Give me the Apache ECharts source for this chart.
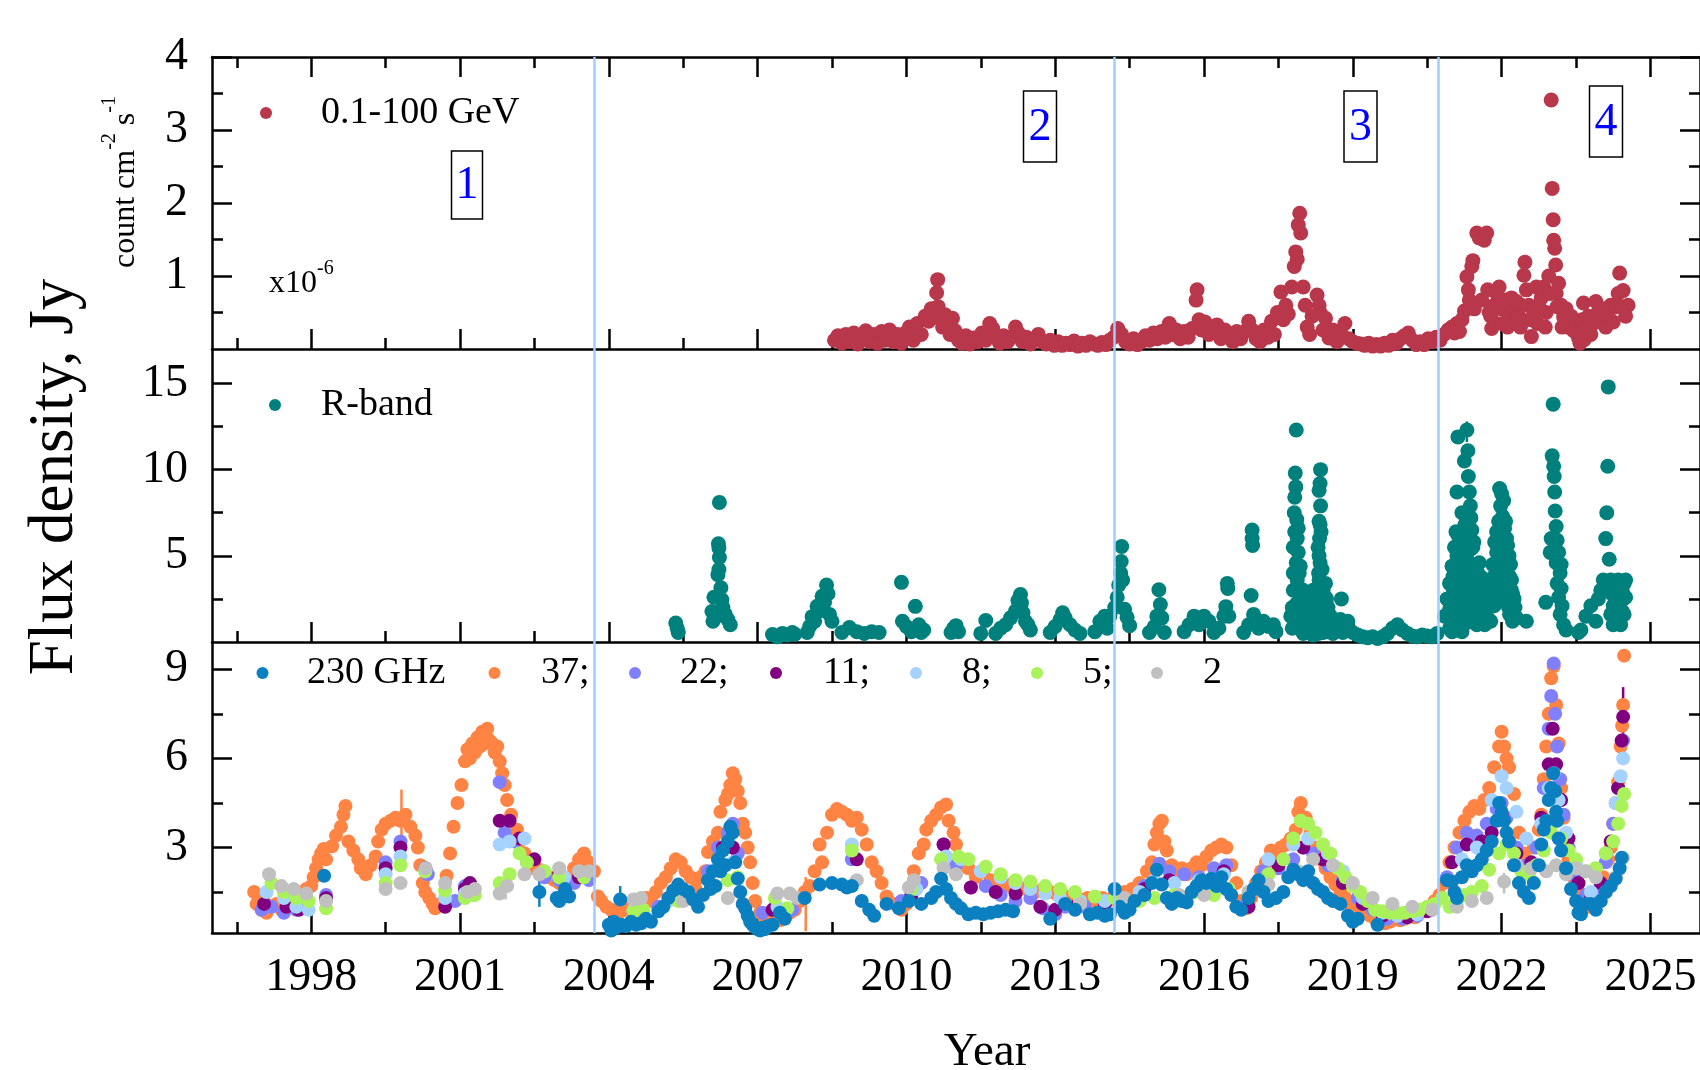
<!DOCTYPE html>
<html>
<head>
<meta charset="utf-8">
<script src="https://cdn.jsdelivr.net/npm/echarts@6/dist/echarts.min.js"></script>
<style>
  html, body { margin: 0; padding: 0; background: #fff; }
  #chart { width: 1700px; height: 1070px; }
</style>
</head>
<body>
<div id="chart"></div>
<script>
// tick values
const yearLabels = [1998, 2001, 2004, 2007, 2010, 2013, 2016, 2019, 2022, 2025]
const yearMinor = [1996.5, 1999.5, 2002.5, 2005.5, 2008.5, 2011.5, 2014.5, 2017.5, 2020.5, 2023.5]
const gammaTicks = [1, 2, 3, 4]
const gammaMinor = [0.5, 1.5, 2.5, 3.5]
const rTicks = [5, 10, 15]
const rMinor = [2.5, 7.5, 12.5]
const radioTicks = [3, 6, 9]
const radioMinor = [1.5, 4.5, 7.5]

// epoch boundaries (years) and their labels
const epochLines = [2003.71, 2014.19, 2020.73]
const epochNames = ["1", "2", "3", "4"]

const radioNames = ["230 GHz", "37;", "22;", "11;", "8;", "5;", "2"]

// 0.1-100 GeV flux, x1e-6 count cm^-2 s^-1
const gammaFlux = [
  [2008.55,0.12],[2008.62,0.18],[2008.7,0.08],[2008.78,0.2],[2008.86,0.1],[2008.94,0.22],[2009.02,0.07],[2009.1,0.18],
  [2009.18,0.25],[2009.26,0.1],[2009.34,0.2],[2009.42,0.08],[2009.5,0.24],[2009.58,0.12],[2009.66,0.26],[2009.74,0.1],
  [2009.82,0.2],[2009.9,0.08],[2009.98,0.22],[2010.06,0.3],[2010.14,0.12],[2010.22,0.35],[2010.3,0.2],[2010.38,0.45],
  [2010.45,0.38],[2010.5,0.55],[2010.56,0.44],[2010.61,0.77],[2010.63,0.95],[2010.64,0.58],[2010.68,0.42],[2010.73,0.3],
  [2010.78,0.47],[2010.83,0.38],[2010.88,0.2],[2010.93,0.42],[2010.98,0.25],[2011.05,0.12],[2011.12,0.08],[2011.2,0.18],
  [2011.28,0.07],[2011.36,0.15],[2011.44,0.1],[2011.52,0.22],[2011.6,0.12],[2011.68,0.35],[2011.74,0.28],[2011.8,0.15],
  [2011.88,0.08],[2011.96,0.18],[2012.04,0.1],[2012.12,0.16],[2012.2,0.3],[2012.26,0.22],[2012.34,0.1],[2012.42,0.16],
  [2012.5,0.07],[2012.58,0.14],[2012.66,0.2],[2012.74,0.1],[2012.82,0.07],[2012.9,0.12],[2012.98,0.05],[2013.06,0.1],
  [2013.14,0.05],[2013.22,0.08],[2013.3,0.06],[2013.38,0.11],[2013.46,0.04],[2013.54,0.08],[2013.62,0.05],[2013.7,0.1],
  [2013.78,0.07],[2013.86,0.05],[2013.94,0.09],[2014.02,0.06],[2014.1,0.12],[2014.18,0.16],[2014.26,0.28],[2014.34,0.2],
  [2014.42,0.1],[2014.5,0.07],[2014.58,0.14],[2014.66,0.06],[2014.74,0.1],[2014.82,0.18],[2014.9,0.12],[2014.98,0.22],
  [2015.06,0.14],[2015.14,0.24],[2015.22,0.16],[2015.3,0.35],[2015.36,0.2],[2015.44,0.26],[2015.52,0.14],[2015.6,0.24],
  [2015.68,0.16],[2015.76,0.28],[2015.84,0.67],[2015.86,0.81],[2015.9,0.4],[2015.95,0.26],[2016.02,0.37],[2016.1,0.2],
  [2016.18,0.24],[2016.26,0.33],[2016.34,0.14],[2016.42,0.26],[2016.5,0.18],[2016.58,0.1],[2016.66,0.24],[2016.74,0.14],
  [2016.82,0.24],[2016.9,0.38],[2016.97,0.26],[2017.05,0.14],[2017.13,0.1],[2017.21,0.26],[2017.29,0.16],[2017.36,0.38],
  [2017.42,0.2],[2017.48,0.5],[2017.55,0.78],[2017.6,0.4],[2017.65,0.6],[2017.7,0.48],[2017.77,0.85],[2017.82,1.13],
  [2017.85,1.33],[2017.88,1.23],[2017.9,1.7],[2017.93,1.86],[2017.95,1.59],[2018.0,0.85],[2018.04,0.6],[2018.08,0.3],
  [2018.13,0.2],[2018.18,0.45],[2018.28,0.74],[2018.32,0.6],[2018.35,0.49],[2018.4,0.26],[2018.45,0.42],[2018.52,0.15],
  [2018.6,0.26],[2018.68,0.1],[2018.76,0.22],[2018.84,0.35],[2018.92,0.14],[2019.0,0.1],[2019.08,0.08],[2019.16,0.07],
  [2019.24,0.05],[2019.32,0.08],[2019.4,0.04],[2019.48,0.06],[2019.56,0.04],[2019.64,0.08],[2019.72,0.05],[2019.8,0.12],
  [2019.88,0.08],[2019.96,0.14],[2020.04,0.18],[2020.12,0.22],[2020.2,0.12],[2020.28,0.06],[2020.36,0.1],[2020.44,0.06],
  [2020.52,0.14],[2020.6,0.1],[2020.68,0.16],[2020.76,0.12],[2020.84,0.2],[2020.92,0.26],[2021.0,0.3],[2021.05,0.22],
  [2021.1,0.35],[2021.15,0.24],[2021.2,0.4],[2021.25,0.52],[2021.3,0.99],[2021.33,0.81],[2021.35,0.67],[2021.4,1.13],
  [2021.42,1.21],[2021.45,0.55],[2021.5,1.59],[2021.55,1.52],[2021.6,0.67],[2021.65,1.49],[2021.7,1.59],[2021.72,0.81],
  [2021.75,0.5],[2021.78,0.45],[2021.8,0.28],[2021.85,0.6],[2021.88,0.35],[2021.9,0.76],[2021.95,0.85],[2022.0,0.55],
  [2022.02,0.35],[2022.05,0.67],[2022.1,0.6],[2022.12,0.3],[2022.15,0.44],[2022.2,0.7],[2022.25,0.5],[2022.28,0.35],
  [2022.3,0.65],[2022.35,0.45],[2022.38,0.3],[2022.4,0.6],[2022.45,1.01],[2022.47,1.19],[2022.5,0.81],[2022.55,0.6],
  [2022.58,0.4],[2022.6,0.17],[2022.65,0.5],[2022.7,0.85],[2022.72,0.35],[2022.75,0.6],[2022.8,0.7],[2022.85,0.85],
  [2022.88,0.3],[2022.9,0.5],[2022.95,1.0],[2022.98,0.76],[2023.0,3.41],[2023.02,2.2],[2023.04,1.77],[2023.05,1.49],
  [2023.07,1.38],[2023.09,1.15],[2023.1,0.76],[2023.12,0.58],[2023.15,0.9],[2023.2,0.6],[2023.22,0.3],[2023.25,0.44],
  [2023.3,0.55],[2023.35,0.3],[2023.4,0.45],[2023.45,0.25],[2023.5,0.35],[2023.55,0.15],[2023.58,0.08],[2023.62,0.4],
  [2023.65,0.63],[2023.67,0.13],[2023.7,0.3],[2023.75,0.45],[2023.8,0.2],[2023.85,0.35],[2023.9,0.65],[2023.95,0.51],
  [2024.0,0.4],[2024.05,0.55],[2024.1,0.3],[2024.15,0.45],[2024.2,0.6],[2024.25,0.37],[2024.3,0.58],[2024.35,0.76],
  [2024.38,1.04],[2024.42,0.58],[2024.45,0.8],[2024.5,0.45],[2024.55,0.6]
]

// R-band flux density
const rBand = [
  [2005.35,1.1],[2005.38,0.8],[2005.4,0.55],
  [2006.08,1.77],[2006.1,1.2],[2006.12,2.6],[2006.18,1.5],[2006.2,3.9],[2006.22,4.2],[2006.23,4.9],[2006.22,5.45],
  [2006.21,5.7],[2006.23,8.1],[2006.26,3.15],[2006.28,2.45],[2006.3,2.0],[2006.35,1.6],[2006.4,1.3],[2006.45,1.0],
  [2007.3,0.43],[2007.4,0.3],[2007.5,0.5],[2007.6,0.4],[2007.7,0.55],[2007.75,0.45],
  [2008.0,0.55],[2008.05,0.9],[2008.1,1.47],[2008.15,1.2],[2008.2,2.07],[2008.25,1.8],[2008.3,2.65],[2008.35,2.3],
  [2008.39,3.3],[2008.42,2.8],[2008.45,1.6],[2008.5,1.2],
  [2008.7,0.55],[2008.85,0.84],[2009.0,0.6],[2009.15,0.5],[2009.3,0.6],[2009.45,0.55],
  [2009.9,3.46],[2009.92,1.2],[2010.0,0.9],[2010.1,0.6],[2010.18,2.07],[2010.25,1.0],[2010.3,0.55],[2010.35,0.7],
  [2010.9,0.55],[2010.95,0.8],[2011.0,0.95],[2011.05,0.6],
  [2011.5,0.5],[2011.6,1.25],[2011.8,0.5],[2011.9,0.8],[2012.0,1.0],[2012.1,1.4],[2012.2,1.8],[2012.25,2.4],
  [2012.3,2.75],[2012.32,2.27],[2012.35,1.7],[2012.4,1.2],[2012.45,1.0],[2012.5,0.7],
  [2012.9,0.55],[2013.0,0.9],[2013.1,1.3],[2013.15,1.7],[2013.2,1.4],[2013.3,1.0],[2013.4,0.7],[2013.5,0.5],
  [2013.8,0.6],[2013.9,1.2],[2014.0,1.5],[2014.05,0.8],[2014.1,1.5],[2014.2,2.0],[2014.25,2.6],[2014.28,3.3],
  [2014.32,4.0],[2014.33,4.67],[2014.34,5.54],[2014.36,3.6],[2014.4,1.9],[2014.45,1.43],[2014.5,0.95],
  [2014.9,0.55],[2015.0,0.9],[2015.05,1.5],[2015.09,3.03],[2015.12,2.17],[2015.15,1.4],[2015.2,0.55],
  [2015.6,0.6],[2015.7,1.0],[2015.8,1.5],[2015.9,1.0],[2016.0,1.5],[2016.1,1.2],[2016.2,0.55],[2016.3,0.8],
  [2016.4,1.5],[2016.44,2.05],[2016.47,3.4],[2016.48,3.1],[2016.5,1.5],
  [2016.8,0.55],[2016.9,1.0],[2016.95,2.7],[2016.97,6.5],[2016.97,6.0],[2016.98,5.6],[2017.0,1.6],[2017.1,0.8],
  [2017.2,1.2],[2017.3,0.9],[2017.4,1.0],[2017.45,0.6],
  [2017.75,1.5],[2017.78,0.8],[2017.78,2.0],[2017.8,4.0],[2017.8,3.0],[2017.8,5.5],[2017.82,7.5],[2017.83,6.4],
  [2017.83,8.4],[2017.84,9.8],[2017.86,12.3],[2017.85,9.0],[2017.86,4.6],[2017.86,2.2],[2017.87,7.1],[2017.88,6.0],
  [2017.88,1.2],[2017.88,3.6],[2017.9,5.2],[2017.9,6.6],[2017.9,2.0],[2017.92,4.0],[2017.93,3.1],[2017.94,1.4],
  [2017.94,4.4],[2017.95,2.5],[2017.97,1.0],[2017.97,2.0],[2018.0,1.5],[2018.0,0.5],[2018.0,3.0],[2018.05,0.8],
  [2018.05,1.6],[2018.1,1.2],[2018.1,0.6],[2018.1,2.4],[2018.15,2.0],[2018.15,1.2],[2018.2,1.0],[2018.2,0.4],
  [2018.2,1.8],[2018.2,3.0],[2018.25,1.2],[2018.25,0.8],[2018.28,2.1],[2018.28,1.6],[2018.3,3.1],[2018.3,0.5],
  [2018.3,2.4],[2018.3,5.5],[2018.31,4.0],[2018.32,5.0],[2018.32,3.6],[2018.32,7.0],[2018.32,8.8],[2018.33,6.0],
  [2018.34,6.8],[2018.34,1.4],[2018.34,4.6],[2018.34,9.2],[2018.35,7.9],[2018.35,10.0],[2018.36,0.6],[2018.36,2.8],
  [2018.36,6.4],[2018.38,1.0],[2018.38,2.2],[2018.38,4.2],[2018.4,0.55],[2018.4,1.6],[2018.4,3.0],[2018.42,0.8],
  [2018.42,2.0],[2018.45,3.4],[2018.45,1.2],[2018.45,2.6],[2018.47,2.5],[2018.48,1.5],[2018.5,1.7],[2018.5,0.6],
  [2018.5,2.0],[2018.55,1.0],[2018.55,1.5],[2018.6,0.5],[2018.6,1.0],
  [2018.7,0.7],[2018.75,1.3],[2018.77,2.5],[2018.8,0.55],[2018.9,1.2],[2019.0,0.55],[2019.1,0.4],
  [2019.2,0.3],[2019.3,0.25],[2019.4,0.3],[2019.5,0.2],[2019.6,0.3],[2019.7,0.5],[2019.8,0.8],[2019.9,1.0],
  [2020.0,0.7],[2020.1,0.5],[2020.2,0.35],[2020.3,0.3],[2020.4,0.4],[2020.5,0.35],[2020.6,0.3],[2020.7,0.5],
  [2020.85,1.5],[2020.9,2.5],[2020.95,3.4],[2020.95,0.8],[2020.95,1.9],[2021.0,4.4],[2021.0,2.4],[2021.0,0.6],
  [2021.02,1.2],[2021.02,3.8],[2021.03,3.0],[2021.04,2.6],[2021.04,0.9],[2021.05,5.5],[2021.06,4.2],[2021.06,1.5],
  [2021.07,2.0],[2021.08,6.4],[2021.08,3.3],[2021.08,0.7],[2021.1,8.7],[2021.1,5.0],[2021.1,2.8],[2021.12,11.9],
  [2021.12,6.2],[2021.12,1.9],[2021.13,2.2],[2021.14,3.9],[2021.14,0.8],[2021.15,4.8],[2021.16,5.6],[2021.16,2.9],
  [2021.17,1.0],[2021.18,6.0],[2021.18,4.3],[2021.18,1.3],[2021.2,7.5],[2021.2,2.6],[2021.2,0.6],[2021.22,3.5],
  [2021.22,5.9],[2021.22,1.9],[2021.24,1.6],[2021.24,4.5],[2021.25,10.5],[2021.26,6.8],[2021.26,3.2],[2021.27,5.0],
  [2021.28,4.0],[2021.28,1.1],[2021.3,12.3],[2021.3,7.0],[2021.3,2.0],[2021.31,2.6],[2021.32,11.1],[2021.32,5.3],
  [2021.32,3.7],[2021.33,9.6],[2021.34,6.0],[2021.34,2.4],[2021.35,8.7],[2021.36,1.4],[2021.36,4.6],[2021.37,7.9],
  [2021.38,7.2],[2021.38,5.4],[2021.38,2.2],[2021.4,6.5],[2021.4,3.5],[2021.4,1.2],[2021.42,5.5],[2021.42,4.2],
  [2021.42,2.0],[2021.44,3.0],[2021.44,5.8],[2021.45,4.3],[2021.46,3.4],[2021.46,1.6],[2021.48,2.8],[2021.5,3.6],
  [2021.5,2.6],[2021.5,1.0],[2021.52,4.0],[2021.53,1.8],[2021.55,4.6],[2021.56,3.2],[2021.56,1.4],[2021.58,2.4],
  [2021.6,2.2],[2021.62,3.7],[2021.65,3.0],[2021.66,2.1],[2021.66,1.0],[2021.7,1.5],[2021.7,3.4],[2021.72,2.4],
  [2021.75,2.6],[2021.78,1.2],[2021.8,3.3],[2021.82,2.6],[2021.82,4.5],[2021.85,2.1],[2021.86,3.8],[2021.86,5.8],
  [2021.88,4.0],[2021.9,5.2],[2021.9,3.0],[2021.9,6.4],[2021.93,5.6],[2021.94,4.6],[2021.94,7.0],[2021.94,2.4],
  [2021.96,8.9],[2021.97,6.2],[2021.97,3.5],[2021.98,7.9],[2022.0,6.8],[2022.0,5.0],[2022.0,8.6],[2022.0,2.8],
  [2022.02,3.2],[2022.02,7.3],[2022.02,4.6],[2022.03,6.0],[2022.04,8.2],[2022.04,5.6],[2022.05,4.0],[2022.06,6.6],
  [2022.06,3.4],[2022.08,5.2],[2022.08,7.0],[2022.08,2.6],[2022.1,4.4],[2022.1,6.0],[2022.1,3.0],[2022.12,3.6],
  [2022.12,5.6],[2022.12,2.4],[2022.14,4.6],[2022.14,2.0],[2022.15,5.0],[2022.16,3.8],[2022.16,1.6],[2022.18,2.1],
  [2022.18,4.5],[2022.2,3.0],[2022.2,3.6],[2022.2,1.8],[2022.22,1.2],[2022.22,2.8],[2022.24,1.6],[2022.25,2.5],
  [2022.27,2.0],[2022.3,1.4],[2022.5,1.2],[2022.89,2.3],
  [2022.98,5.2],[2023.0,6.0],[2023.02,10.8],[2023.04,13.8],[2023.05,10.2],[2023.06,9.6],[2023.07,8.7],[2023.08,7.6],
  [2023.1,6.7],[2023.1,4.6],[2023.12,5.9],[2023.12,3.4],[2023.15,5.2],[2023.15,2.6],[2023.18,4.0],[2023.18,1.6],
  [2023.2,3.1],[2023.2,4.5],[2023.22,2.1],[2023.25,1.0],[2023.3,0.7],
  [2023.55,0.55],[2023.6,0.7],[2023.7,1.5],[2023.8,2.1],[2023.9,1.2],[2023.95,2.5],[2024.0,3.0],[2024.05,3.6],
  [2024.1,6.0],[2024.12,7.5],[2024.14,10.2],[2024.15,14.8],[2024.17,4.8],[2024.2,3.6],[2024.2,1.6],[2024.2,3.0],
  [2024.22,2.8],[2024.25,2.1],[2024.25,3.2],[2024.25,1.0],[2024.3,1.2],[2024.3,2.6],[2024.3,3.4],[2024.33,1.6],
  [2024.33,2.2],[2024.35,3.6],[2024.37,2.8],[2024.37,1.4],[2024.4,3.4],[2024.4,2.4],[2024.4,1.0],[2024.43,3.0],
  [2024.43,1.8],[2024.45,2.5],[2024.47,3.4],[2024.47,1.6],[2024.5,3.6],[2024.5,2.6]
]

// radio flux density, Jy
const f37 = [
  [1996.85,1.5],[1996.9,1.1],[1996.95,1.3],[1997.0,0.9],[1997.05,1.2],[1997.1,0.8],[1997.15,1.0],[1997.3,1.1],
  [1997.4,0.9],[1997.5,1.0],[1997.6,1.2],[1997.7,1.0],[1997.8,1.3],[1997.9,1.6],[1998.0,1.7],[1998.05,2.0],
  [1998.1,2.3],[1998.15,2.6],[1998.2,2.8],[1998.25,2.95],[1998.3,2.6],[1998.42,3.04],[1998.5,3.4],[1998.6,3.7],
  [1998.65,4.1],[1998.69,4.4],[1998.75,3.2],[1998.85,2.9],[1998.95,2.6],[1999.0,2.3],[1999.1,2.1],[1999.2,2.4],
  [1999.3,2.7],[1999.35,3.2],[1999.42,3.6],[1999.5,3.8],[1999.6,3.9],[1999.7,4.0],[1999.8,3.9],[1999.9,4.1],
  [2000.0,3.7],[2000.1,3.4],[2000.15,3.0],[2000.2,2.4],[2000.25,1.8],[2000.3,1.5],[2000.38,1.3],[2000.45,1.1],
  [2000.5,0.95],[2000.6,1.1],[2000.73,2.05],[2000.8,2.8],[2000.87,3.7],[2000.95,4.5],[2001.03,5.1],[2001.1,5.9],
  [2001.15,6.3],[2001.2,6.0],[2001.25,6.5],[2001.3,6.2],[2001.35,6.7],[2001.4,6.4],[2001.45,6.9],[2001.5,6.5],
  [2001.55,7.0],[2001.6,6.6],[2001.65,6.5],[2001.7,6.2],[2001.75,6.4],[2001.8,5.9],[2001.85,5.5],[2001.9,5.1],
  [2001.95,4.6],[2002.03,4.1],[2002.1,3.4],[2002.15,3.6],[2002.2,3.2],[2002.3,2.8],[2002.4,2.5],[2002.5,2.3],
  [2002.6,2.25],[2002.7,2.1],[2002.8,2.0],[2002.9,1.9],[2003.0,1.8],[2003.1,2.0],[2003.2,1.9],[2003.3,2.3],
  [2003.4,2.6],[2003.5,2.8],[2003.6,2.5],[2003.7,2.2],[2003.78,1.35],[2003.85,1.2],[2003.95,1.0],[2004.05,0.9],
  [2004.15,0.8],[2004.25,0.85],[2004.35,1.0],[2004.45,0.9],[2004.55,1.1],[2004.65,1.2],[2004.75,1.3],[2004.85,1.2],
  [2004.95,1.5],[2005.05,1.8],[2005.15,2.0],[2005.25,2.3],[2005.35,2.6],[2005.45,2.5],[2005.55,2.2],[2005.65,2.0],
  [2005.75,1.6],[2005.85,2.0],[2005.95,2.2],[2006.0,2.85],[2006.1,3.2],[2006.2,3.5],[2006.25,4.2],[2006.35,4.6],
  [2006.4,4.8],[2006.45,5.1],[2006.5,5.5],[2006.55,5.3],[2006.6,4.9],[2006.65,4.5],[2006.7,3.8],[2006.75,3.5],
  [2006.8,3.0],[2006.85,2.5],[2006.9,1.8],[2006.95,1.2],[2007.05,0.8],[2007.15,0.6],[2007.25,0.5],[2007.35,0.6],
  [2007.45,0.55],[2007.55,0.7],[2007.65,0.8],[2007.75,0.9],[2007.85,1.2],[2007.95,1.5],[2008.05,1.7],[2008.15,2.2],
  [2008.25,3.1],[2008.3,2.5],[2008.4,3.5],[2008.5,4.1],[2008.6,4.3],[2008.7,4.2],[2008.8,4.1],[2008.9,3.9],
  [2009.0,4.0],[2009.1,3.6],[2009.2,3.1],[2009.3,2.5],[2009.4,2.2],[2009.5,1.8],[2009.6,1.35],[2009.75,1.1],
  [2009.9,0.9],[2010.0,1.1],[2010.1,1.6],[2010.15,2.2],[2010.25,2.8],[2010.35,3.1],[2010.4,3.6],[2010.5,3.9],
  [2010.6,4.1],[2010.7,4.35],[2010.8,4.45],[2010.85,3.9],[2010.95,3.5],[2011.0,3.1],[2011.1,2.6],[2011.15,2.4],
  [2011.25,2.3],[2011.4,2.0],[2011.55,2.2],[2011.7,1.9],[2011.85,1.8],[2012.0,1.7],[2012.15,1.8],[2012.3,1.6],
  [2012.45,1.7],[2012.6,1.5],[2012.75,1.6],[2012.9,1.5],[2013.05,1.4],[2013.2,1.35],[2013.35,1.3],[2013.5,1.25],
  [2013.65,1.3],[2013.8,1.2],[2013.95,1.3],[2014.1,1.25],[2014.25,1.3],[2014.4,1.5],[2014.55,1.6],[2014.7,1.8],
  [2014.85,2.2],[2014.95,2.5],[2015.0,3.1],[2015.05,3.5],[2015.1,3.8],[2015.15,3.9],[2015.2,3.2],[2015.25,2.9],
  [2015.35,2.4],[2015.45,2.2],[2015.55,2.3],[2015.65,2.1],[2015.75,2.3],[2015.85,2.5],[2015.95,2.4],[2016.05,2.7],
  [2016.15,2.9],[2016.25,3.0],[2016.35,3.1],[2016.45,3.0],[2016.55,2.4],[2016.65,1.8],[2016.75,1.2],[2016.85,0.95],
  [2016.95,1.3],[2017.05,1.8],[2017.15,2.2],[2017.25,2.5],[2017.35,2.9],[2017.45,2.8],[2017.55,3.0],[2017.65,3.1],
  [2017.75,3.3],[2017.85,3.6],[2017.9,4.2],[2017.95,4.5],[2018.05,4.0],[2018.15,3.5],[2018.25,3.0],[2018.35,2.6],
  [2018.45,2.3],[2018.55,2.0],[2018.65,1.75],[2018.75,1.5],[2018.85,1.3],[2018.95,1.1],[2019.05,1.0],[2019.15,0.9],
  [2019.25,0.8],[2019.35,0.7],[2019.45,0.6],[2019.55,0.5],[2019.65,0.45],[2019.75,0.5],[2019.85,0.6],[2019.95,0.55],
  [2020.05,0.6],[2020.15,0.7],[2020.25,0.65],[2020.35,0.8],[2020.45,0.9],[2020.55,1.0],[2020.65,1.2],[2020.75,1.4],
  [2020.85,1.8],[2020.95,2.5],[2021.05,3.0],[2021.15,3.5],[2021.25,3.9],[2021.35,4.2],[2021.45,4.4],[2021.55,4.3],
  [2021.65,4.6],[2021.75,5.0],[2021.85,5.7],[2021.95,6.4],[2022.0,6.9],[2022.05,6.4],[2022.1,6.0],[2022.15,5.7],
  [2022.25,4.8],[2022.35,3.5],[2022.45,2.8],[2022.55,2.5],[2022.65,3.0],[2022.75,3.6],[2022.8,4.1],[2022.85,5.3],
  [2022.9,6.4],[2022.95,7.5],[2023.0,8.7],[2023.05,9.1],[2023.1,7.8],[2023.15,6.5],[2023.2,5.0],[2023.25,4.0],
  [2023.3,3.2],[2023.35,2.6],[2023.45,2.0],[2023.55,1.5],[2023.65,1.2],[2023.75,1.0],[2023.85,1.1],[2023.95,1.5],
  [2024.05,2.0],[2024.15,2.6],[2024.2,3.0],[2024.25,3.8],[2024.3,4.5],[2024.35,5.2],[2024.4,6.4],[2024.43,7.1],
  [2024.45,7.8],[2024.47,9.46]
]
const f230 = [
  [1998.26,2.05],[2002.6,1.5],[2002.95,1.3],[2003.0,1.2],[2003.08,1.4],[2003.12,1.6],[2003.2,1.35],
  [2004.0,0.4],[2004.05,0.2],[2004.1,0.5],[2004.15,0.3],[2004.23,1.25],[2004.25,0.4],[2004.35,0.35],[2004.45,0.5],
  [2004.55,0.4],[2004.65,0.45],[2004.75,0.6],[2004.85,0.5],[2005.0,0.85],[2005.1,1.0],[2005.2,1.3],[2005.3,1.55],
  [2005.4,1.75],[2005.5,1.6],[2005.6,1.5],[2005.7,1.25],[2005.8,1.0],[2005.9,1.4],[2006.0,1.9],[2006.05,1.6],
  [2006.1,2.2],[2006.15,1.7],[2006.2,2.6],[2006.25,2.2],[2006.3,2.9],[2006.35,2.4],[2006.4,3.2],[2006.45,3.7],
  [2006.5,3.5],[2006.55,2.5],[2006.6,1.95],[2006.65,1.5],[2006.7,1.1],[2006.75,0.95],[2006.8,0.7],[2006.85,0.5],
  [2006.9,0.4],[2006.95,0.3],[2007.0,0.25],[2007.05,0.2],[2007.1,0.3],[2007.15,0.25],[2007.2,0.35],[2007.3,0.4],
  [2007.45,0.8],[2007.55,0.6],[2007.95,1.3],[2008.25,1.75],[2008.5,1.8],[2008.7,1.75],[2008.8,1.65],[2008.9,1.7],
  [2009.1,1.2],[2009.25,0.9],[2009.35,0.7],[2009.6,1.1],[2009.85,0.95],[2010.05,1.2],[2010.3,1.1],[2010.5,1.3],
  [2010.6,1.5],[2010.7,1.95],[2010.8,1.6],[2010.9,1.3],[2011.0,1.1],[2011.1,0.95],[2011.25,0.75],[2011.4,0.8],
  [2011.55,0.75],[2011.7,0.8],[2011.85,0.85],[2012.0,0.9],[2012.15,0.85],[2012.9,0.6],[2013.2,1.1],[2013.4,0.9],
  [2013.7,0.75],[2013.85,0.8],[2014.0,0.7],[2014.1,0.75],[2014.2,1.6],[2014.3,1.0],[2014.4,0.8],[2014.5,0.9],
  [2014.6,1.2],[2014.8,1.4],[2014.95,1.8],[2015.05,2.25],[2015.15,1.75],[2015.25,1.3],[2015.35,1.1],[2015.45,1.3],
  [2015.55,1.2],[2015.65,1.15],[2015.75,1.5],[2015.85,1.7],[2015.95,1.9],[2016.05,1.8],[2016.15,1.95],[2016.25,1.7],
  [2016.35,2.0],[2016.45,1.6],[2016.55,1.4],[2016.65,1.0],[2016.75,0.9],[2016.9,1.3],[2017.0,1.6],[2017.1,1.9],
  [2017.2,1.5],[2017.3,1.2],[2017.45,1.3],[2017.6,1.5],[2017.7,2.0],[2017.8,2.25],[2017.9,2.1],[2018.0,1.9],
  [2018.1,2.2],[2018.2,1.8],[2018.3,1.6],[2018.4,1.5],[2018.5,1.3],[2018.6,1.2],[2018.75,1.1],[2018.9,0.7],
  [2019.0,0.5],[2019.1,0.6],[2019.5,0.4],[2020.9,1.9],[2021.0,1.85],[2021.05,1.5],[2021.1,1.3],[2021.2,2.0],
  [2021.3,2.4],[2021.4,2.2],[2021.5,2.4],[2021.6,2.6],[2021.7,2.9],[2021.8,3.2],[2021.9,3.9],[2021.95,4.5],
  [2022.0,4.2],[2022.05,3.9],[2022.1,3.5],[2022.15,3.2],[2022.25,2.4],[2022.35,1.8],[2022.45,1.5],[2022.55,1.3],
  [2022.65,1.8],[2022.75,2.4],[2022.8,3.1],[2022.85,3.6],[2022.9,3.9],[2022.95,4.6],[2023.0,5.0],[2023.04,5.5],
  [2023.08,4.9],[2023.1,4.2],[2023.12,3.9],[2023.15,3.3],[2023.2,2.9],[2023.3,2.3],[2023.4,1.6],[2023.5,1.2],
  [2023.55,0.8],[2023.6,0.75],[2023.7,1.1],[2023.8,1.1],[2023.9,0.9],[2024.0,1.2],[2024.1,1.5],[2024.2,1.7],
  [2024.3,1.95],[2024.38,2.3],[2024.42,2.65]
]
const f22 = [
  [1997.0,0.9],[1997.2,1.0],[1997.45,0.8],[1997.7,0.9],[1997.9,1.0],[1998.3,1.4],[1999.5,2.5],[1999.8,3.2],
  [2000.35,2.1],[2000.9,1.2],[2001.1,1.7],[2001.2,1.6],[2001.8,5.2],[2001.9,3.5],[2002.1,3.2],[2002.35,2.5],
  [2002.7,2.0],[2003.0,1.9],[2003.3,1.8],[2003.6,1.9],[2004.5,0.8],[2005.0,1.0],[2005.5,1.5],[2006.0,2.2],
  [2006.2,3.0],[2006.4,3.5],[2006.5,3.8],[2006.6,2.8],[2007.1,0.8],[2007.35,1.0],[2007.7,0.9],[2008.9,2.6],
  [2009.9,1.2],[2010.3,1.8],[2010.75,3.1],[2011.0,2.4],[2011.3,1.65],[2011.6,1.7],[2011.9,1.4],[2012.2,1.2],
  [2012.5,1.3],[2012.75,0.95],[2013.0,0.75],[2013.2,1.0],[2013.6,1.0],[2014.0,1.1],[2014.4,0.9],[2014.8,1.7],
  [2015.1,2.45],[2015.3,2.2],[2015.6,2.1],[2015.9,2.0],[2016.2,2.3],[2016.45,2.4],[2016.8,1.0],[2017.2,2.2],
  [2017.5,2.3],[2017.8,2.6],[2018.0,3.0],[2018.2,2.8],[2018.5,2.4],[2018.8,1.9],[2019.1,1.3],[2019.4,0.9],
  [2019.7,0.6],[2020.0,0.6],[2020.3,0.7],[2020.6,0.9],[2020.9,2.0],[2021.1,3.0],[2021.3,3.5],[2021.5,3.4],
  [2021.7,3.8],[2021.9,4.3],[2022.0,4.5],[2022.1,4.0],[2022.3,3.0],[2022.5,2.4],[2022.7,3.0],[2022.85,5.0],
  [2022.95,7.0],[2023.0,8.1],[2023.05,9.2],[2023.08,7.5],[2023.12,6.4],[2023.18,5.3],[2023.25,4.1],[2023.35,3.0],
  [2023.5,2.0],[2023.7,1.4],[2023.9,1.5],[2024.1,2.5],[2024.25,3.8],[2024.35,5.0],[2024.45,6.6]
]
const f11 = [
  [1997.05,1.1],[1997.5,1.0],[1997.75,0.9],[1998.3,1.3],[1999.5,2.3],[1999.8,3.0],[2000.3,2.3],[2000.7,1.0],
  [2001.1,1.6],[2001.2,1.8],[2001.8,3.9],[2002.0,3.9],[2002.2,3.3],[2002.5,2.6],[2003.0,2.1],[2003.4,2.0],
  [2005.4,1.65],[2006.3,3.0],[2006.5,3.0],[2007.3,0.9],[2009.0,2.6],[2010.1,1.4],[2010.75,3.1],[2011.3,1.65],
  [2011.8,1.5],[2012.2,1.45],[2012.7,1.0],[2013.0,0.9],[2013.4,1.0],[2014.0,1.1],[2014.8,1.6],[2015.3,1.9],
  [2016.4,2.2],[2016.9,1.0],[2017.5,2.4],[2018.0,3.0],[2018.4,2.6],[2018.8,1.8],[2019.2,1.1],[2019.6,0.7],
  [2020.1,0.65],[2020.5,0.85],[2021.0,2.5],[2021.3,3.1],[2021.6,3.2],[2021.8,3.5],[2022.0,4.1],[2022.3,2.8],
  [2022.6,2.5],[2022.8,4.0],[2022.95,5.8],[2023.03,7.0],[2023.1,5.8],[2023.2,4.6],[2023.35,3.3],[2023.55,1.8],
  [2023.8,1.3],[2024.0,1.8],[2024.2,3.2],[2024.35,5.0],[2024.42,6.6],[2024.45,7.4]
]
const f8 = [
  [1997.1,1.5],[1997.45,1.3],[1997.7,1.0],[1997.95,0.9],[1999.5,2.1],[1999.8,2.7],[2000.3,2.2],[2000.7,1.3],
  [2001.1,1.45],[2001.25,1.4],[2001.8,3.1],[2002.0,3.2],[2002.3,3.3],[2002.7,2.2],[2003.1,2.0],[2003.5,2.1],
  [2004.5,0.9],[2005.2,1.2],[2006.5,2.5],[2007.4,1.0],[2008.9,3.1],[2010.2,1.6],[2010.8,2.7],[2011.1,2.6],
  [2011.5,2.2],[2011.9,2.0],[2012.2,1.8],[2012.5,1.6],[2012.8,1.45],[2013.1,1.3],[2013.5,1.2],[2014.0,1.2],
  [2014.7,1.5],[2015.0,1.9],[2015.4,1.8],[2015.9,1.9],[2016.4,2.1],[2017.3,2.6],[2017.8,3.1],[2018.1,3.3],
  [2018.5,2.8],[2018.8,2.2],[2019.2,1.3],[2019.6,0.8],[2019.9,0.7],[2020.3,0.75],[2020.6,1.0],[2021.2,2.6],
  [2021.5,3.0],[2021.8,4.6],[2022.0,5.4],[2022.1,5.0],[2022.3,4.2],[2022.5,3.3],[2022.8,3.8],[2022.95,5.0],
  [2023.05,5.5],[2023.15,4.6],[2023.3,3.5],[2023.5,2.4],[2023.8,1.5],[2024.1,2.8],[2024.3,4.5],[2024.4,5.4],
  [2024.45,6.0]
]
const f5 = [
  [1997.2,1.8],[1997.45,1.5],[1997.7,1.3],[1997.95,1.2],[1998.3,0.95],[1999.5,1.8],[1999.8,2.4],[2000.3,2.2],
  [2000.7,1.55],[2001.1,1.3],[2001.3,1.4],[2001.8,1.8],[2002.0,2.1],[2002.2,2.8],[2002.35,2.5],[2002.7,2.2],
  [2003.0,2.0],[2003.5,2.0],[2004.5,0.85],[2004.7,0.9],[2005.4,1.2],[2006.4,1.9],[2006.6,2.0],[2007.35,1.3],
  [2007.6,0.95],[2008.9,2.9],[2010.1,1.6],[2010.7,2.6],[2011.05,2.7],[2011.25,2.6],[2011.6,2.35],[2011.9,2.1],
  [2012.2,1.9],[2012.5,1.85],[2012.8,1.7],[2013.1,1.6],[2013.4,1.5],[2013.8,1.35],[2014.2,1.3],[2014.7,1.2],
  [2015.0,1.3],[2015.4,1.4],[2015.8,1.5],[2016.2,1.4],[2016.5,1.6],[2016.9,1.5],[2017.3,2.1],[2017.6,2.6],
  [2017.8,3.3],[2017.95,3.9],[2018.1,3.8],[2018.25,3.5],[2018.4,3.1],[2018.55,2.8],[2018.7,2.3],[2018.85,2.0],
  [2019.0,1.7],[2019.15,1.5],[2019.3,1.2],[2019.45,0.9],[2019.6,0.85],[2019.75,0.8],[2019.9,0.8],[2020.05,0.8],
  [2020.2,0.85],[2020.35,0.9],[2020.5,1.0],[2020.65,1.1],[2020.8,1.3],[2020.95,1.0],[2021.1,1.2],[2021.25,1.4],
  [2021.4,1.5],[2021.6,1.7],[2021.75,2.25],[2021.95,2.8],[2022.1,3.1],[2022.25,2.8],[2022.4,2.2],[2022.55,2.1],
  [2022.7,2.4],[2022.85,2.9],[2023.0,3.5],[2023.1,3.9],[2023.2,3.3],[2023.35,2.9],[2023.5,2.6],[2023.7,2.2],
  [2023.9,2.3],[2024.1,2.8],[2024.25,3.2],[2024.35,3.8],[2024.42,4.4],[2024.47,4.8]
]
const f2 = [
  [1997.15,2.1],[1997.4,1.7],[1997.65,1.6],[1997.9,1.45],[1998.3,1.2],[1999.5,1.6],[1999.8,1.8],[2000.3,2.3],
  [2000.7,1.8],[2001.15,1.5],[2001.3,1.6],[2001.8,1.45],[2001.95,1.7],[2002.3,2.1],[2002.6,2.1],[2003.0,2.3],
  [2003.4,2.2],[2003.6,2.2],[2004.5,1.25],[2004.65,1.3],[2005.5,1.2],[2006.4,1.3],[2007.4,1.45],[2007.65,1.45],
  [2007.8,1.3],[2009.0,1.9],[2010.05,1.65],[2010.15,1.9],[2010.75,2.3],[2011.0,2.1],[2013.5,1.1],[2014.4,1.3],
  [2015.5,1.4],[2016.0,1.4],[2016.9,1.5],[2017.3,1.75],[2017.9,2.2],[2018.2,2.6],[2018.6,2.4],[2019.0,1.8],
  [2019.4,1.3],[2019.8,1.1],[2020.2,1.0],[2020.6,0.9],[2021.1,1.0],[2021.4,1.2],[2021.7,1.3],[2022.05,1.85],
  [2022.3,2.4],[2022.6,2.3],[2022.9,2.2],[2023.1,2.4],[2023.3,2.1],[2023.5,2.3],[2023.7,2.2],[2023.9,2.0],
  [2024.1,1.5],[2024.3,2.0],[2024.45,2.65]
]

// error bars: [year, low, high]
const err37 = [[1999.82, 2.9, 4.95], [2007.97, 0.18, 2.0]]
const err230 = [[2002.6, 1.0, 2.0], [2004.23, 1.0, 1.7]]
const err11 = [[2024.45, 6.6, 8.4]]
const err2 = [[2022.05, 1.45, 2.15], [2019.2, 1.0, 1.65], [2001.92, 1.25, 2.1]]
const errR = [[2021.3, 11.6, 12.8]]

const SERIF = "Liberation Serif"
const chart = echarts.init(document.getElementById("chart"), null, { renderer: "canvas" })

const black = { color: "#000", width: 2.5 }
const grids = [
  { left: 212, top: 57, width: 1494, height: 292 },
  { left: 212, top: 349, width: 1494, height: 293 },
  { left: 212, top: 642, width: 1494, height: 291 },
]
const yRanges = [
  { min: 0, max: 4, major: gammaTicks, minor: gammaMinor },
  { min: 0, max: 17, major: rTicks, minor: rMinor },
  { min: 0.12, max: 9.92, major: radioTicks, minor: radioMinor },
]

const xAxis = []
const yAxis = []
const mainX = []
const mainY = []
// tick labels go through a rich style so the serif face is applied for sure
const plainLabel = function (v) { return "{t|" + v + "}" }
const tickRich = { t: { fontFamily: SERIF, fontSize: 46, color: "#000" } }

function addX(g, position, values, length, line, labels) {
  xAxis.push({
    type: "value", gridIndex: g, position, min: 1996, max: 2026,
    axisLine: { show: line, onZero: false, lineStyle: black },
    axisTick: { show: true, inside: true, length, customValues: values, lineStyle: black },
    axisLabel: {
      show: labels, customValues: values, formatter: plainLabel, rich: tickRich,
      fontFamily: SERIF, fontSize: 46, color: "#000", margin: 22,
    },
    splitLine: { show: false },
  })
  return xAxis.length - 1
}
function addY(g, position, r, values, length, line, labels) {
  yAxis.push({
    type: "value", gridIndex: g, position, min: r.min, max: r.max,
    axisLine: { show: line, onZero: false, lineStyle: black },
    axisTick: { show: true, inside: true, length, customValues: values, lineStyle: black },
    axisLabel: {
      show: labels, customValues: values, formatter: plainLabel, rich: tickRich,
      fontFamily: SERIF, fontSize: 46, color: "#000", margin: 24,
    },
    splitLine: { show: false },
  })
  return yAxis.length - 1
}

grids.forEach(function (grid, g) {
  mainX.push(addX(g, "bottom", yearLabels, 20, true, g === 2))
  addX(g, "bottom", yearMinor, 11, false, false)
  if (g === 0) {
    addX(g, "top", yearLabels, 20, true, false)
    addX(g, "top", yearMinor, 11, false, false)
  }
  const r = yRanges[g]
  mainY.push(addY(g, "left", r, r.major, 20, true, true))
  addY(g, "left", r, r.minor, 11, false, false)
  addY(g, "right", r, r.major, 20, true, false)
  addY(g, "right", r, r.minor, 11, false, false)
})

function scatter(name, data, color, g, size, withLines) {
  const s = {
    type: "scatter", name, data, xAxisIndex: mainX[g], yAxisIndex: mainY[g],
    symbol: "circle", symbolSize: size, itemStyle: { color, opacity: 1 },
    silent: true, animation: false,
  }
  if (withLines) {
    s.markLine = {
      silent: true, symbol: ["none", "none"], label: { show: false },
      lineStyle: { color: "#a0ccff", width: 2.5, type: "solid" },
      data: epochLines.map(function (v) { return { xAxis: v } }),
    }
  }
  return s
}
function errBars(data, color, g) {
  return {
    type: "custom", data, xAxisIndex: mainX[g], yAxisIndex: mainY[g], silent: true, animation: false,
    renderItem: function (params, api) {
      const hi = api.coord([api.value(0), api.value(2)])
      const lo = api.coord([api.value(0), api.value(1)])
      return { type: "line", shape: { x1: hi[0], y1: hi[1], x2: lo[0], y2: lo[1] }, style: { stroke: color, lineWidth: 2.5 } }
    },
  }
}

const C = {
  gamma: "#b8374a", r: "#00807c", f230: "#0a80c0", f37: "#ff8444",
  f22: "#8080ff", f11: "#800080", f8: "#a6d2ff", f5: "#aaf25a", f2: "#c0c0c0",
}
const radioColors = [C.f230, C.f37, C.f22, C.f11, C.f8, C.f5, C.f2]

const series = [
  scatter("0.1-100 GeV", gammaFlux, C.gamma, 0, 15, true),
  errBars(errR, C.r, 1),
  scatter("R-band", rBand, C.r, 1, 15, true),
  errBars(err37, C.f37, 2),
  scatter("37;", f37, C.f37, 2, 14, true),
  scatter("22;", f22, C.f22, 2, 14, false),
  errBars(err11, C.f11, 2),
  scatter("11;", f11, C.f11, 2, 14, false),
  scatter("8;", f8, C.f8, 2, 14, false),
  scatter("5;", f5, C.f5, 2, 14, false),
  errBars(err2, C.f2, 2),
  scatter("2", f2, C.f2, 2, 14, false),
  errBars(err230, C.f230, 2),
  scatter("230 GHz", f230, C.f230, 2, 14, false),
]

// legend entries drawn as graphic: dot centre x, text x, row y
const legendFont = "38px " + SERIF
const graphic = []
function legendItem(name, color, dotX, textX, y) {
  graphic.push({ type: "circle", shape: { cx: dotX, cy: y, r: 6 }, style: { fill: color }, z: 60 })
  graphic.push({
    type: "text", x: textX, y: y, z: 60,
    style: { text: name, font: legendFont, fill: "#000", align: "left", verticalAlign: "middle" },
  })
}
legendItem("0.1-100 GeV", C.gamma, 266, 321, 113)
legendItem("R-band", C.r, 275, 321, 405)
const radioDotX = [262.5, 494.5, 635, 776, 916, 1037, 1157]
const radioTextX = [307, 541, 680, 823, 962, 1083, 1203]
radioNames.forEach(function (n, i) { legendItem(n, radioColors[i], radioDotX[i], radioTextX[i], 673) })

graphic.push(
  {
    type: "text", x: 55, y: 477, rotation: Math.PI / 2,
    style: { text: "Flux density, Jy", font: "63px " + SERIF, fill: "#000", align: "center", verticalAlign: "middle" },
  },
  {
    type: "text", x: 987, y: 1053,
    style: { text: "Year", font: "47px " + SERIF, fill: "#000", align: "center", verticalAlign: "middle" },
  },
  {
    type: "text", x: 126, y: 182, rotation: Math.PI / 2,
    style: {
      text: "{a|count cm}{s|-2}{a| s}{s|-1}", align: "center", verticalAlign: "middle",
      rich: {
        a: { fontFamily: SERIF, fontSize: 32, fill: "#000", color: "#000" },
        s: { fontFamily: SERIF, fontSize: 20, fill: "#000", color: "#000", padding: [0, 0, 32, 0] },
      },
    },
  },
  {
    type: "text", x: 269, y: 284,
    style: {
      text: "{a|x10}{s|-6}", align: "left", verticalAlign: "middle",
      rich: {
        a: { fontFamily: SERIF, fontSize: 32, fill: "#000", color: "#000" },
        s: { fontFamily: SERIF, fontSize: 20, fill: "#000", color: "#000", padding: [0, 0, 30, 0] },
      },
    },
  }
)

const boxes = [
  { x: 451.5, y: 151, w: 31, h: 68 },
  { x: 1023.5, y: 91, w: 33, h: 71 },
  { x: 1344, y: 91, w: 33, h: 71 },
  { x: 1589.5, y: 86, w: 33, h: 71 },
]
boxes.forEach(function (b, i) {
  graphic.push({
    type: "rect", shape: { x: b.x, y: b.y, width: b.w, height: b.h },
    style: { fill: "#fff", stroke: "#000", lineWidth: 1.5 }, z: 50,
  })
  graphic.push({
    type: "text", x: b.x + b.w / 2, y: b.y + b.h / 2 + 1, z: 51,
    style: { text: epochNames[i], font: "46px " + SERIF, fill: "#0000ff", align: "center", verticalAlign: "middle" },
  })
})

const option = {
  backgroundColor: "#fff",
  animation: false,
  textStyle: { fontFamily: SERIF },
  grid: grids,
  xAxis,
  yAxis,
  graphic,
  series,
}

chart.setOption(option)
</script>
</body>
</html>
